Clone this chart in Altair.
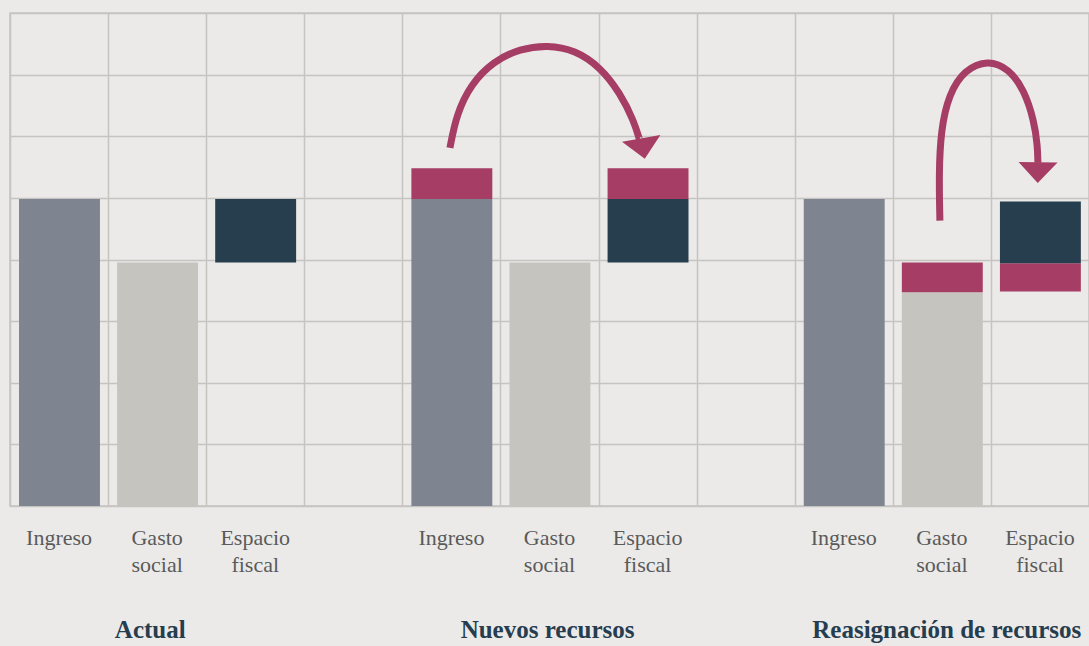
import altair as alt
import pandas as pd

# ---- Bar segments (column index 0..10, bottom, top, kind) ----
seg_col = [0, 1, 2, 4, 4, 5, 6, 6, 8, 9, 9, 10, 10]
seg_lo = [0, 0, 3.95, 0, 4.98, 0, 3.95, 4.98, 0, 0, 3.47, 3.48, 3.94]
seg_hi = [4.98, 3.95, 4.98, 4.98, 5.48, 3.95, 4.98, 5.48, 4.98, 3.47, 3.95, 3.94, 4.94]
seg_kind = ["Ingreso", "Gasto social", "Espacio fiscal",
            "Ingreso", "Recursos", "Gasto social", "Espacio fiscal", "Recursos",
            "Ingreso", "Gasto social", "Recursos", "Recursos", "Espacio fiscal"]

kind_domain = ["Ingreso", "Gasto social", "Espacio fiscal", "Recursos"]
kind_colors = ["#7e8490", "#c5c4be", "#273e4f", "#a63d64"]

# ---- Category labels under each column ----
label_col = [0, 1, 2, 4, 5, 6, 8, 9, 10]
label_text = ["Ingreso", "Gasto\nsocial", "Espacio\nfiscal"] * 3

# ---- Group titles (centre, in column units) ----
group_x = [1.43, 5.48, 9.55]
group_text = ["Actual", "Nuevos recursos", "Reasignación de recursos"]

# ---- Curved arrows (control points in chart units) ----
arrow1_x = [4.485, 4.485, 4.55, 4.70, 4.93, 5.20, 5.48, 5.76, 6.02, 6.22, 6.36, 6.42, 6.422]
arrow1_y = [5.81, 5.81, 6.35, 6.85, 7.22, 7.42, 7.48, 7.40, 7.12, 6.70, 6.25, 5.93, 5.93]
arrow2_x = [9.480, 9.480, 9.47, 9.49, 9.57, 9.73, 9.97, 10.18, 10.34, 10.44, 10.475, 10.479, 10.479]
arrow2_y = [4.63, 4.63, 5.40, 6.10, 6.68, 7.08, 7.24, 7.10, 6.75, 6.25, 5.85, 5.57, 5.57]

head_x = [6.453, 10.479]
head_y = [5.80, 5.41]
head_angle = [350, 1]

BG = "#ebeae8"
GRID = "#c6c4c1"
PINK = "#a63d64"

segs = pd.DataFrame({"col": seg_col, "lo": seg_lo, "hi": seg_hi, "kind": seg_kind})
labels = pd.DataFrame({"col": label_col, "text": label_text})
groups = pd.DataFrame({"xc": group_x, "text": group_text})
arrows = pd.DataFrame({
    "arrow": ["a"] * len(arrow1_x) + ["b"] * len(arrow2_x),
    "i": list(range(len(arrow1_x))) + list(range(len(arrow2_x))),
    "x": arrow1_x + arrow2_x,
    "y": arrow1_y + arrow2_y,
})
heads = pd.DataFrame({"x": head_x, "y": head_y, "angle": head_angle})

xscale = alt.Scale(domain=[0, 11], nice=False, zero=False)
yscale = alt.Scale(domain=[0, 8], nice=False)

xaxis = alt.Axis(values=list(range(12)), grid=True, labels=False, ticks=False,
                 domain=False, title=None)
yaxis = alt.Axis(values=list(range(9)), grid=True, labels=False, ticks=False,
                 domain=False, title=None)

bars = alt.Chart(segs).transform_calculate(
    x0="datum.col + 0.092", x1="datum.col + 0.917"
).mark_bar().encode(
    x=alt.X("x0:Q", scale=xscale, axis=xaxis),
    x2="x1:Q",
    y=alt.Y("lo:Q", scale=yscale, axis=yaxis),
    y2="hi:Q",
    color=alt.Color("kind:N", scale=alt.Scale(domain=kind_domain, range=kind_colors), legend=None),
)

label_layer = alt.Chart(labels).transform_calculate(
    xc="datum.col + 0.5"
).mark_text(
    font="Liberation Serif", fontSize=22, color="#5a5a5a", lineBreak="\n",
    lineHeight=27, baseline="alphabetic", align="center"
).encode(
    x=alt.X("xc:Q", scale=xscale, axis=xaxis),
    y=alt.datum(-0.625, scale=yscale, axis=yaxis),
    text="text:N",
)

group_layer = alt.Chart(groups).mark_text(
    font="Liberation Serif", fontSize=25, fontWeight="bold", color="#263d4f",
    baseline="alphabetic", align="center"
).encode(
    x=alt.X("xc:Q", scale=xscale, axis=xaxis),
    y=alt.datum(-2.15, scale=yscale, axis=yaxis),
    text="text:N",
)

arrow_lines = alt.Chart(arrows).mark_line(
    interpolate="basis", strokeWidth=7, color=PINK, strokeCap="butt"
).encode(
    x=alt.X("x:Q", scale=xscale, axis=xaxis),
    y=alt.Y("y:Q", scale=yscale, axis=yaxis),
    detail="arrow:N",
    order="i:Q",
)

arrow_heads = alt.Chart(heads).mark_point(
    shape="M-1,-0.53L1,-0.53L0,0.53Z", filled=True, opacity=1, color=PINK,
    size=1521, strokeWidth=0
).encode(
    x=alt.X("x:Q", scale=xscale, axis=xaxis),
    y=alt.Y("y:Q", scale=yscale, axis=yaxis),
    angle=alt.Angle("angle:Q", scale=None),
)

chart = alt.layer(bars, arrow_lines, arrow_heads, label_layer, group_layer).properties(
    width=1079, height=493,
    background=BG,
    padding={"left": 10, "top": 13, "right": 0, "bottom": 140},
    autosize=alt.AutoSizeParams(type="none"),
).configure_view(
    stroke=GRID, strokeWidth=1.5, fill=BG
).configure_axis(
    gridColor=GRID, gridWidth=1.5, gridOpacity=1
)

chart.save("out.html", embed_options={"renderer": "svg", "actions": False})
